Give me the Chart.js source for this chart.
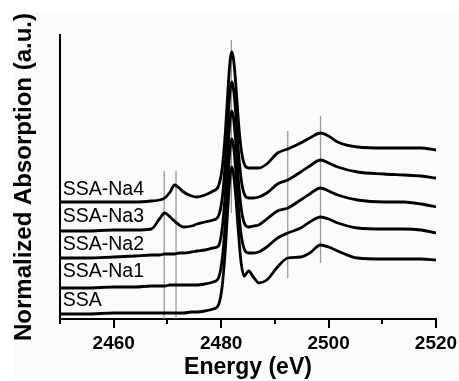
<!DOCTYPE html>
<html>
<head>
<meta charset="utf-8">
<script src="https://cdn.jsdelivr.net/npm/chart.js@4.4.0/dist/chart.umd.min.js"></script>
<style>
  html, body { margin: 0; padding: 0; background: #fff; }
  #wrap { width: 459px; height: 381px; }
</style>
</head>
<body>
<div id="wrap"><canvas id="xanesChart" width="459" height="381"></canvas></div>
<script>
// S K-edge XANES, curves stacked with an offset (arbitrary units)
const energies = [2450, 2455, 2460, 2464, 2467, 2468.5, 2469.5, 2470.5, 2471.3, 2472.2,
  2473, 2474.5, 2475.5, 2477, 2478.5, 2479.5, 2480.2, 2480.8, 2481.3, 2481.7,
  2482, 2482.3, 2482.7, 2483.2, 2483.7, 2484.3, 2485.1, 2486, 2487, 2488.5,
  2490.5, 2492.4, 2494.8, 2496.5, 2498.5, 2500, 2501.7, 2505.4, 2510.3, 2514,
  2517.2, 2520];

const ssa = [0.5, 0.5, 0.6, 0.6, 0.6, 0.6, 0.6, 0.6, 0.6, 0.6,
  0.6, 0.7, 0.7, 0.8, 1.0, 1.4, 3.3, 7.1, 11.6, 14.5,
  15.2, 14.5, 12.4, 8.8, 5.7, 4.3, 4.8, 4.2, 3.6, 3.9,
  5.2, 6.1, 6.2, 6.6, 7.4, 7.2, 6.8, 6.1, 6.0, 6.0,
  6.0, 5.9];

const ssaNa1 = [3.1, 3.1, 3.2, 3.2, 3.3, 3.3, 3.3, 3.4, 3.4, 3.4,
  3.4, 3.4, 3.4, 3.5, 3.7, 4.1, 6.0, 9.8, 14.4, 17.3,
  18.0, 17.3, 15.0, 11.3, 8.5, 7.0, 6.6, 6.6, 6.7, 7.2,
  8.1, 8.6, 9.1, 9.7, 10.2, 10.0, 9.6, 9.1, 9.0, 9.0,
  8.9, 8.6];

const ssaNa2 = [6.1, 6.1, 6.2, 6.3, 6.4, 6.4, 6.5, 6.5, 6.5, 6.6,
  6.6, 6.7, 6.8, 6.9, 7.1, 7.3, 9.1, 12.8, 17.3, 20.1,
  20.8, 20.1, 17.8, 14.0, 11.2, 9.6, 9.2, 9.3, 9.4, 10.0,
  10.8, 11.1, 11.9, 12.5, 13.1, 12.8, 12.4, 11.9, 11.7, 11.7,
  11.5, 11.2];

const ssaNa3 = [8.8, 8.8, 8.9, 8.9, 9.0, 10.0, 10.6, 10.2, 9.8, 9.4,
  9.2, 9.3, 9.5, 9.7, 9.9, 10.3, 12.1, 15.8, 20.2, 23.0,
  23.7, 23.0, 20.7, 16.9, 14.1, 12.5, 12.1, 12.1, 12.2, 12.6,
  13.5, 13.9, 14.7, 15.3, 15.9, 15.6, 15.2, 14.7, 14.5, 14.4,
  14.3, 14.1];

const ssaNa4 = [11.7, 11.7, 11.7, 11.7, 11.8, 11.9, 12.1, 12.7, 13.4, 13.1,
  12.7, 12.3, 12.2, 12.4, 12.8, 13.3, 15.1, 18.8, 23.2, 26.0,
  26.7, 26.0, 23.7, 19.9, 17.1, 15.5, 15.1, 15.1, 15.1, 15.5,
  16.6, 17.0, 17.6, 18.1, 18.6, 18.3, 17.7, 17.2, 17.1, 17.1,
  17.1, 16.9];

const seriesNames = ['SSA', 'SSA-Na1', 'SSA-Na2', 'SSA-Na3', 'SSA-Na4'];
const seriesValues = [ssa, ssaNa1, ssaNa2, ssaNa3, ssaNa4];
const labelLevels = [1.85, 4.7, 7.45, 10.25, 12.9];
const labelEnergy = 2450.5;

// grey reference lines: energy, lower end, upper end
const markerEnergies = [2469.4, 2471.6, 2481.9, 2492.4, 2498.5];
const markerLow = [0, 0, 10.6, 4.1, 5.6];
const markerHigh = [14.8, 14.8, 27.9, 18.8, 20.3];

const majorTicks = [2460, 2480, 2500, 2520];
const minorTicks = [2450, 2470, 2490, 2510];

const FONT = "'Liberation Sans', Arial, Helvetica, sans-serif";

const curveSets = seriesValues.map((vals, i) => ({
  label: seriesNames[i],
  data: energies.map((e, j) => ({ x: e, y: vals[j] })),
  borderColor: '#000',
  borderWidth: 2.8,
  pointRadius: 0,
  fill: false,
  cubicInterpolationMode: 'monotone',
  order: 1
}));

const markerSets = markerEnergies.map((e, i) => ({
  label: 'marker ' + e,
  data: [{ x: e, y: markerLow[i] }, { x: e, y: markerHigh[i] }],
  borderColor: '#9a9a9a',
  borderWidth: 1.3,
  pointRadius: 0,
  fill: false,
  order: 2
}));

const backgroundPlugin = {
  id: 'paper',
  beforeDraw(chart) {
    const ctx = chart.ctx;
    ctx.save();
    ctx.fillStyle = '#ffffff';
    ctx.fillRect(0, 0, chart.width, chart.height);
    ctx.fillStyle = '#fbfbfb';
    ctx.fillRect(14, 12, chart.width - 14, chart.height - 12);
    ctx.restore();
  }
};

const seriesLabelPlugin = {
  id: 'seriesLabels',
  afterDatasetsDraw(chart) {
    const { ctx, scales: { x, y } } = chart;
    ctx.save();
    ctx.font = '19.5px ' + FONT;
    ctx.fillStyle = '#000';
    ctx.textAlign = 'left';
    ctx.textBaseline = 'middle';
    seriesNames.forEach((name, i) => {
      ctx.fillText(name, x.getPixelForValue(labelEnergy), y.getPixelForValue(labelLevels[i]));
    });
    ctx.restore();
  }
};

const minorTickPlugin = {
  id: 'minorTicks',
  afterDraw(chart) {
    const { ctx, chartArea, scales: { x } } = chart;
    ctx.save();
    ctx.strokeStyle = '#000';
    ctx.lineWidth = 2;
    minorTicks.forEach(v => {
      const px = Math.round(x.getPixelForValue(v));
      ctx.beginPath();
      ctx.moveTo(px, chartArea.bottom);
      ctx.lineTo(px, chartArea.bottom + 5);
      ctx.stroke();
    });
    ctx.restore();
  }
};

new Chart(document.getElementById('xanesChart'), {
  type: 'line',
  data: { datasets: [...curveSets, ...markerSets] },
  options: {
    responsive: false,
    animation: false,
    layout: { padding: { left: 5.6, top: 35, right: 23, bottom: 0 } },
    plugins: { legend: { display: false }, tooltip: { enabled: false } },
    scales: {
      x: {
        type: 'linear',
        min: 2450,
        max: 2520,
        afterBuildTicks: scale => { scale.ticks = majorTicks.map(v => ({ value: v })); },
        afterFit: scale => {
          scale.height = 62;
          scale.paddingLeft = 0;
          scale.paddingRight = 0;
        },
        ticks: {
          color: '#000',
          padding: 6,
          maxRotation: 0,
          autoSkip: false,
          callback: v => String(v),
          font: { family: FONT, size: 19, weight: 'bold', lineHeight: 1 }
        },
        grid: { display: true, drawOnChartArea: false, drawTicks: true, tickLength: 9, color: '#000', lineWidth: 2 },
        border: { display: true, color: '#000', width: 2 },
        title: {
          display: true,
          text: 'Energy (eV)',
          color: '#000',
          padding: { top: 0, bottom: 0 },
          font: { family: FONT, size: 23, weight: 'bold', lineHeight: 1.2 }
        }
      },
      y: {
        min: 0,
        max: 28.4,
        afterFit: scale => { scale.width = 54.4; },
        ticks: { display: false },
        grid: { display: false, drawTicks: false },
        border: { display: true, color: '#000', width: 2 },
        title: {
          display: true,
          text: 'Normalized Absorption (a.u.)',
          color: '#000',
          padding: { top: 4, bottom: 21.6 },
          font: { family: FONT, size: 24, weight: 'bold', lineHeight: 1.2 }
        }
      }
    }
  },
  plugins: [backgroundPlugin, seriesLabelPlugin, minorTickPlugin]
});
</script>
</body>
</html>
